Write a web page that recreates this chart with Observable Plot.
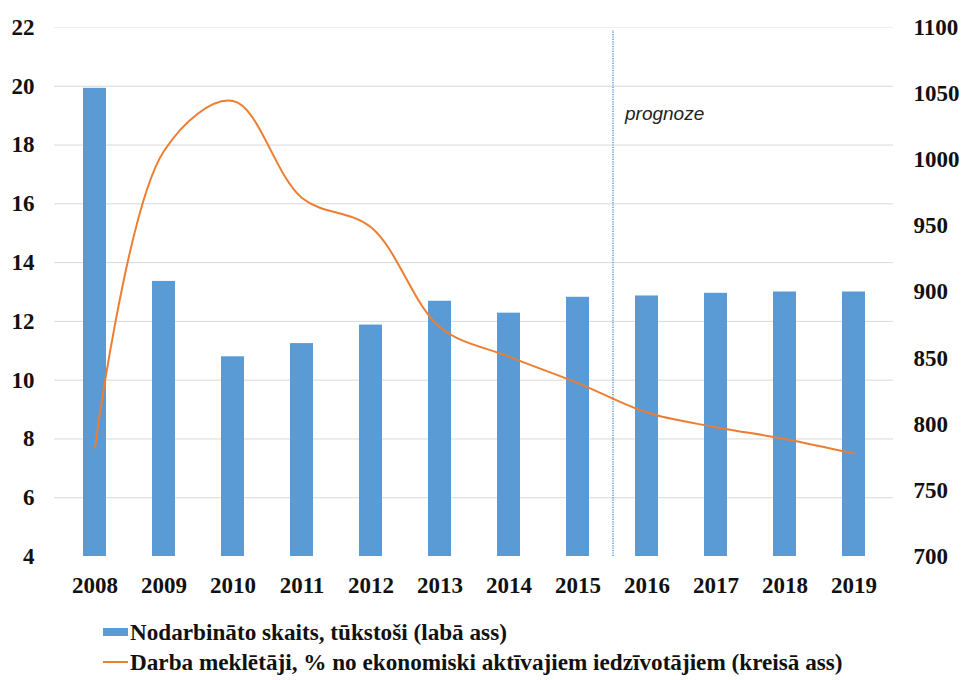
<!DOCTYPE html>
<html>
<head>
<meta charset="utf-8">
<script src="https://cdn.jsdelivr.net/npm/d3@7"></script>
<script src="https://cdn.jsdelivr.net/npm/@observablehq/plot@0.6"></script>
<style>
  html, body { margin: 0; padding: 0; background: #fff; }
  #chart svg { display: block; }
  .legend { font-family: "Liberation Serif", "Times New Roman", serif; font-weight: bold; font-size: 23.2px; color: #111; padding-left: 103px; padding-top: 17px; }
  .legend .row { display: flex; align-items: center; height: 30px; white-space: nowrap; }
  .legend .sw { width: 25px; height: 8px; background: #5b9bd5; margin-right: 2px; flex: none; }
  .legend .ln { width: 25px; height: 2px; background: #ed7d31; margin-right: 2px; flex: none; }
</style>
</head>
<body>
<div id="chart"></div>
<div class="legend">
  <div class="row"><span class="sw"></span><span id="l1"></span></div>
  <div class="row"><span class="ln"></span><span id="l2"></span></div>
</div>
<script>
const years = ["2008","2009","2010","2011","2012","2013","2014","2015","2016","2017","2018","2019"];
const employed = [1054, 908, 851, 861, 875, 893, 884, 896, 897, 899, 900, 900]; // tūkstoši (right axis)
const jobseekers = [7.7, 17.8, 19.5, 16.2, 15.2, 11.8, 10.8, 9.9, 8.9, 8.4, 8.0, 7.5]; // % (left axis)
const leftTicks = [4, 6, 8, 10, 12, 14, 16, 18, 20, 22];
const rightTicks = [700, 750, 800, 850, 900, 950, 1000, 1050, 1100];
const barLabel = "Nodarbināto skaits, tūkstoši (labā ass)";
const lineLabel = "Darba meklētāji, % no ekonomiski aktīvajiem iedzīvotājiem (kreisā ass)";
const forecastStart = "2016";
const forecastLabel = "prognoze";

const leftDomain = [4, 22], rightDomain = [700, 1100];
const toLeft = v => leftDomain[0] + (v - rightDomain[0]) / (rightDomain[1] - rightDomain[0]) * (leftDomain[1] - leftDomain[0]);
const toRight = v => rightDomain[0] + (v - leftDomain[0]) / (leftDomain[1] - leftDomain[0]) * (rightDomain[1] - rightDomain[0]);

const data = years.map((y, i) => ({year: y, emp: employed[i], js: jobseekers[i]}));

const tickFont = {fontFamily: "'Liberation Serif', 'Times New Roman', serif", fontWeight: "bold", fontSize: 23, fill: "#111"};

const chart = Plot.plot({
  width: 963,
  height: 600,
  marginLeft: 54,
  marginRight: 70,
  marginTop: 27,
  marginBottom: 44,
  style: {fontFamily: "'Liberation Serif', serif", background: "#fff", overflow: "visible"},
  x: {domain: years, paddingInner: 0.67, paddingOuter: 0.335, axis: null},
  y: {domain: leftDomain, axis: null},
  marks: [
    Plot.ruleY(leftTicks.filter(t => t > 4 && t < 22), {stroke: "#d9d9d9", strokeWidth: 1}),
    Plot.ruleY([22], {stroke: "#eeeeee", strokeWidth: 1}),
    Plot.barY(data, {x: "year", y1: leftDomain[0], y2: d => toLeft(d.emp), fill: "#5b9bd5"}),
    Plot.ruleX([forecastStart], {dx: -34, y1: 4, y2: 21.9, stroke: "#5b9bd5", strokeWidth: 1.5, strokeDasharray: "1.2,1.2"}),
    Plot.text([forecastLabel], {x: () => forecastStart, y: 19.05, dx: -22, text: d => d, textAnchor: "start", fontFamily: "'Liberation Sans', Arial, sans-serif", fontStyle: "italic", fontSize: 19, fill: "#222"}),
    Plot.line(data, {x: "year", y: "js", stroke: "#ed7d31", strokeWidth: 2, curve: "catmull-rom"}),
    Plot.axisX({domain: years, tickSize: 0, tickPadding: 20, label: null, ...tickFont}),
    Plot.axisY(leftTicks, {anchor: "left", tickSize: 0, tickPadding: 20, label: null, ...tickFont}),
    Plot.axisY(rightTicks.map(toLeft), {anchor: "right", tickSize: 0, tickPadding: 20, label: null, tickFormat: d => String(Math.round(toRight(d))), ...tickFont})
  ]
});
document.getElementById("chart").appendChild(chart);
document.getElementById("l1").textContent = barLabel;
document.getElementById("l2").textContent = lineLabel;
</script>
</body>
</html>
